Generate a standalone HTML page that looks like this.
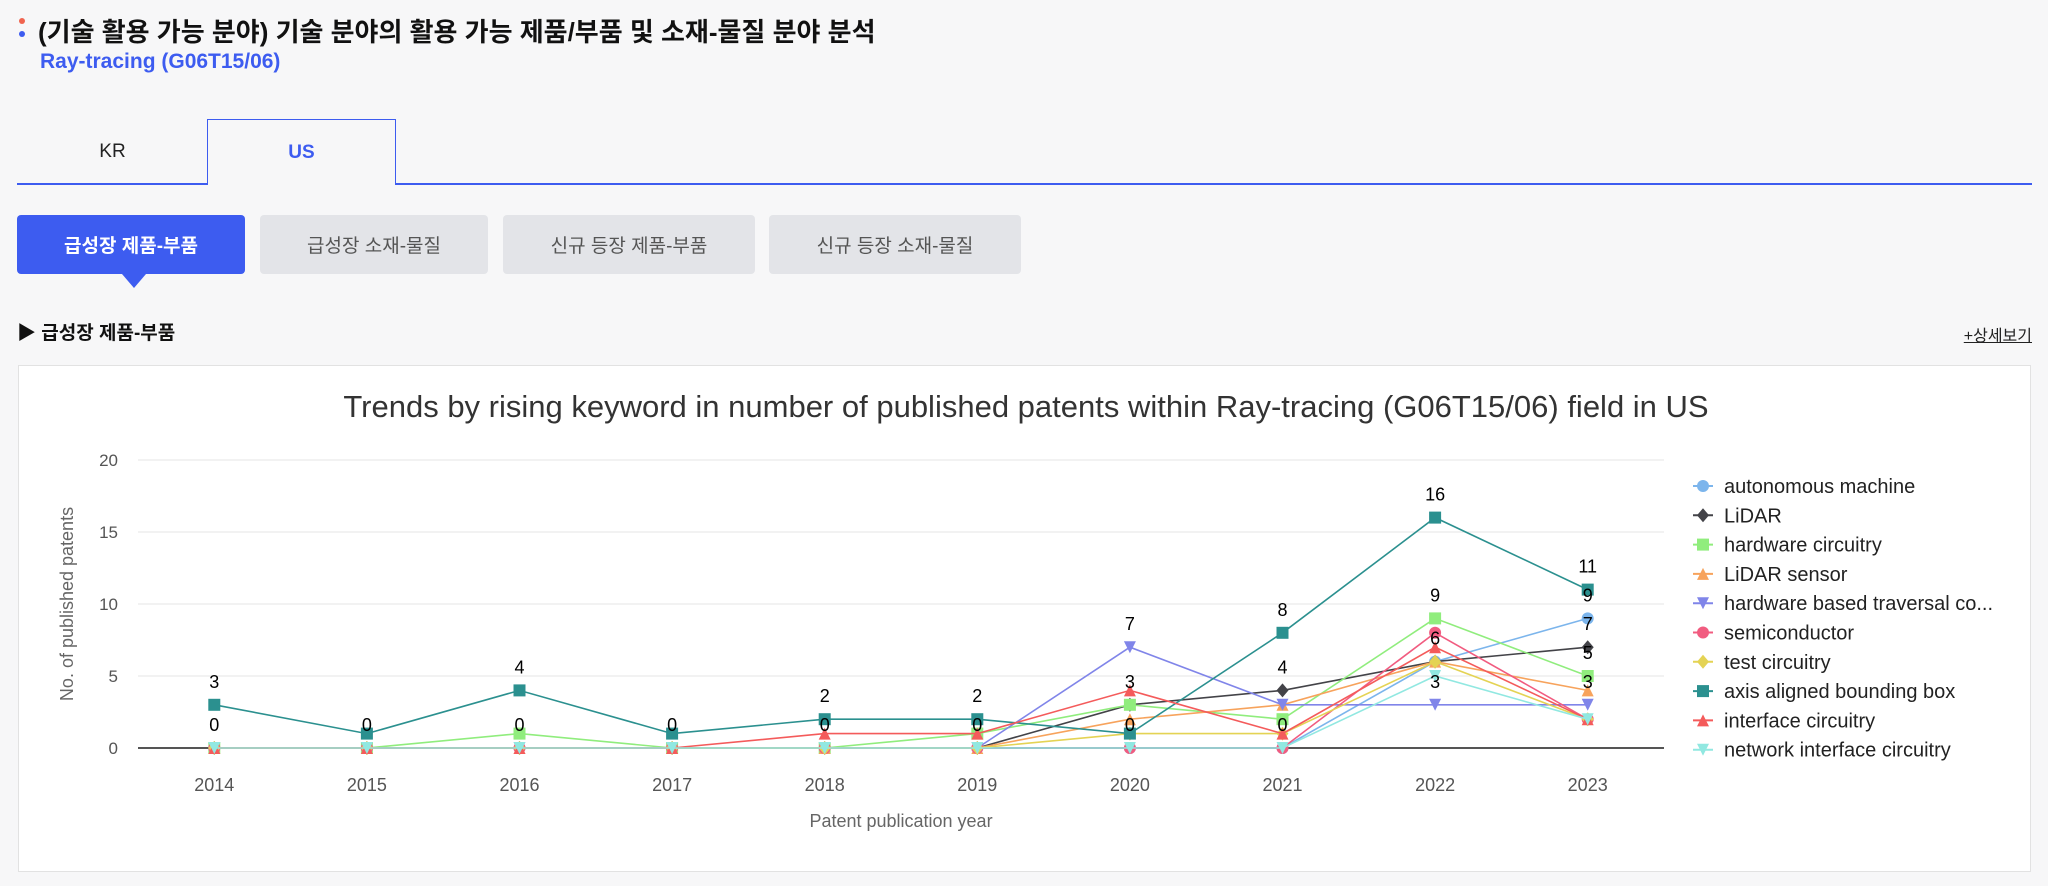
<!DOCTYPE html>
<html><head><meta charset="utf-8">
<style>
body{margin:0;width:2048px;height:886px;background:#f7f7f8;font-family:"Liberation Sans","Noto Sans CJK KR",sans-serif;position:relative;overflow:hidden}
.a{position:absolute}
.btn{position:absolute;top:215px;height:59px;border-radius:4px;background:#e3e4e8;color:#555;font-size:19px;display:flex;align-items:center;justify-content:center}
</style></head><body>
<div class="a" style="left:19px;top:18px;width:6px;height:6px;border-radius:3px;background:#f0644f"></div>
<div class="a" style="left:19px;top:31px;width:6px;height:6px;border-radius:3px;background:#3d5cf0"></div>
<div class="a" style="left:38px;top:12px;font-size:26px;font-weight:bold;color:#111">(기술 활용 가능 분야) 기술 분야의 활용 가능 제품/부품 및 소재-물질 분야 분석</div>
<div class="a" style="left:40px;top:50px;font-size:21px;font-weight:bold;color:#3d5cf0">Ray-tracing (G06T15/06)</div>
<div class="a" style="left:17px;top:183px;width:2015px;height:2px;background:#3d5cf0"></div>
<div class="a" style="left:17px;top:120px;width:191px;height:63px;display:flex;align-items:center;justify-content:center;font-size:19px;color:#222">KR</div>
<div class="a" style="left:207px;top:119px;width:189px;border:1px solid #3d5cf0;border-bottom:none;background:#f7f7f8;display:flex;align-items:center;justify-content:center;font-size:19px;font-weight:bold;color:#3d5cf0;z-index:2;box-sizing:border-box;height:66px">US</div>
<div class="btn" style="left:17px;width:228px;background:#3d5cf0;color:#fff;font-weight:bold">급성장 제품-부품</div>
<div class="a" style="left:122px;top:274px;width:0;height:0;border-left:12px solid transparent;border-right:12px solid transparent;border-top:14px solid #3d5cf0"></div>
<div class="btn" style="left:260px;width:228px">급성장 소재-물질</div>
<div class="btn" style="left:503px;width:252px">신규 등장 제품-부품</div>
<div class="btn" style="left:769px;width:252px">신규 등장 소재-물질</div>
<div class="a" style="left:17px;top:318px;font-size:19px;font-weight:bold;color:#111">▶ 급성장 제품-부품</div>
<div class="a" style="right:16px;top:322px;font-size:16px;color:#222;text-decoration:underline">+상세보기</div>
<div class="a" style="left:18px;top:365px;width:2013px;height:507px;background:#fff;border:1px solid #e2e2e2;box-sizing:border-box"></div>
<svg class="a" id="chart" style="left:0;top:0" width="2048" height="886" font-family="Liberation Sans, sans-serif"></svg>
<script>
const years=["2014","2015","2016","2017","2018","2019","2020","2021","2022","2023"];
const seriesNames=["autonomous machine","LiDAR","hardware circuitry","LiDAR sensor","hardware based traversal co...","semiconductor","test circuitry","axis aligned bounding box","interface circuitry","network interface circuitry"];
const sAutonomous=[0,0,0,0,0,0,0,0,6,9];
const sLidar=[0,0,0,0,0,0,3,4,6,7];
const sHwCircuitry=[0,0,1,0,0,1,3,2,9,5];
const sLidarSensor=[0,0,0,0,0,0,2,3,6,4];
const sHwTraversal=[0,0,0,0,0,0,7,3,3,3];
const sSemiconductor=[0,0,0,0,0,0,0,0,8,2];
const sTestCircuitry=[0,0,0,0,0,0,1,1,6,2];
const sAabb=[3,1,4,1,2,2,1,8,16,11];
const sInterface=[0,0,0,0,1,1,4,1,7,2];
const sNetwork=[0,0,0,0,0,0,0,0,5,2];
const yTicks=[0,5,10,15,20];
const labelSeries=[[7,0],[0],[7,0],[0],[7,0],[7,0],[4,1,0],[7,1,0],[7,2,1,4],[7,0,1,2,4]];
const allSeries=[sAutonomous,sLidar,sHwCircuitry,sLidarSensor,sHwTraversal,sSemiconductor,sTestCircuitry,sAabb,sInterface,sNetwork];
const colors=["#7cb5ec","#434348","#90ed7d","#f7a35c","#8085e9","#f15c80","#e4d354","#2b908f","#f45b5b","#91e8e1"];
const symbols=["circle","diamond","square","triangle","tri-down","circle","diamond","square","triangle","tri-down"];
const svg=document.getElementById('chart');const NS="http://www.w3.org/2000/svg";
const L=138,R=1664,T=460,B=748,YMAX=20;
const x=i=>L+(R-L)/years.length*(i+0.5);
const y=v=>B-(B-T)*v/YMAX;
function mk(tag,attrs,parent){const e=document.createElementNS(NS,tag);for(const k in attrs)e.setAttribute(k,attrs[k]);(parent||svg).appendChild(e);return e;}
function sym(t,cx,cy,c,r,g){
 if(t==="circle")return mk('circle',{cx:cx,cy:cy,r:r,fill:c},g);
 if(t==="square")return mk('rect',{x:cx-r,y:cy-r,width:2*r,height:2*r,fill:c},g);
 let p;
 if(t==="diamond")p=[[cx,cy-r-1],[cx+r,cy],[cx,cy+r+1],[cx-r,cy]];
 else if(t==="triangle")p=[[cx,cy-r],[cx+r,cy+r],[cx-r,cy+r]];
 else p=[[cx-r,cy-r],[cx+r,cy-r],[cx,cy+r]];
 return mk('polygon',{points:p.map(a=>a.join(',')).join(' '),fill:c},g);
}
const title=mk('text',{x:1026,y:417,'text-anchor':'middle','font-size':31,fill:'#333'});

title.textContent="Trends by rising keyword in number of published patents within Ray-tracing (G06T15/06) field in US";
yTicks.forEach(v=>{
 if(v>0){const gl=mk('line',{x1:L,x2:R,y1:y(v),y2:y(v),stroke:'#e6e6e6','stroke-width':1});
 }
 const t=mk('text',{x:118,y:y(v)+6,'text-anchor':'end','font-size':17,fill:'#555'});
 t.textContent=v;
});
const ax=mk('line',{x1:L,x2:R,y1:B,y2:B,stroke:'#555','stroke-width':2});

years.forEach((yr,i)=>{const t=mk('text',{x:x(i),y:791,'text-anchor':'middle','font-size':18,fill:'#555'});
 t.textContent=yr;});
const xt=mk('text',{x:901,y:827,'text-anchor':'middle','font-size':18,fill:'#666'});
xt.textContent="Patent publication year";
const yt=mk('text',{x:0,y:0,'text-anchor':'middle','font-size':18,fill:'#666',transform:'translate(73,604) rotate(-90)'});
yt.textContent="No. of published patents";
allSeries.forEach((d,s)=>{
 const g=mk('g',{});
 mk('polyline',{points:d.map((v,i)=>x(i)+','+y(v)).join(' '),fill:'none',stroke:colors[s],'stroke-width':1.6},g);
 d.forEach((v,i)=>{const m=sym(symbols[s],x(i),y(v),colors[s],6,g);});
});
labelSeries.forEach((arr,i)=>arr.forEach(s=>{
 const v=allSeries[s][i];const t=mk('text',{x:x(i),y:y(v)-17,'text-anchor':'middle','font-size':18,fill:'#000'});
 t.textContent=v;}));
seriesNames.forEach((n,s)=>{
 const ly=486+s*29.3;const g=mk('g',{});
 mk('line',{x1:1693,x2:1713,y1:ly,y2:ly,stroke:colors[s],'stroke-width':2},g);
 sym(symbols[s],1703,ly,colors[s],6,g);
 const t=mk('text',{x:1724,y:ly+7,'font-size':20,fill:'#222'},g);t.textContent=n;
});
</script>
</body></html>
